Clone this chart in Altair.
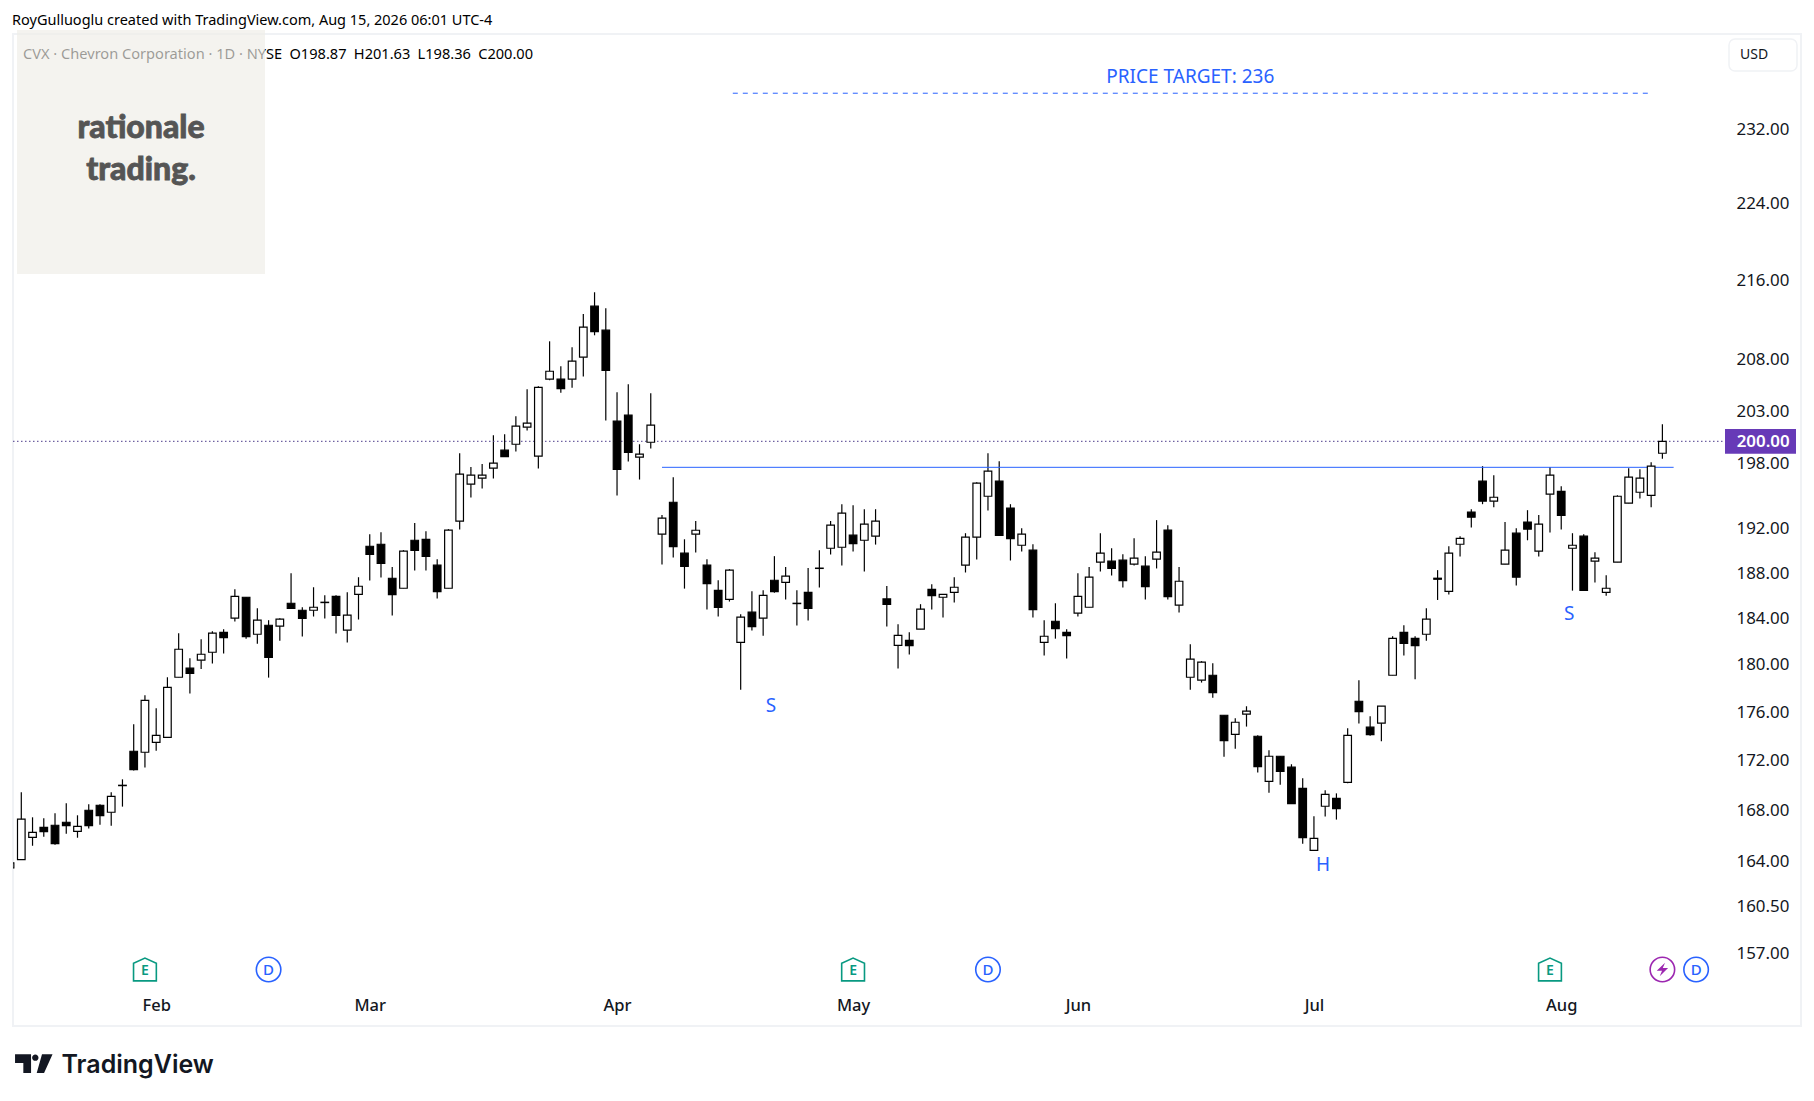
import altair as alt
import pandas as pd

open_ = [163.4,164.05,165.79,166.58,166.74,166.98,166.26,167.93,168.33,167.77,169.93,172.69,172.61,173.42,173.83,178.85,179.62,180.30,180.98,182.70,183.93,
185.76,182.53,183.31,183.23,185.23,184.62,184.62,185.32,185.84,182.88,186.02,190.30,190.48,187.44,186.55,190.84,190.93,188.60,186.55,192.58,
195.98,196.54,197.47,199.16,199.72,201.34,198.60,205.97,205.97,205.97,208.13,213.22,210.81,201.92,202.49,198.50,199.91,191.39,194.31,189.68,
191.39,188.60,186.37,185.58,181.83,184.45,183.93,187.26,187.08,185.23,186.19,188.34,190.12,190.21,191.30,190.84,191.21,185.61,181.58,182.01,
182.97,186.46,185.76,186.19,188.60,191.12,194.86,196.26,193.77,190.39,189.95,181.83,183.66,182.70,184.36,184.88,188.87,188.96,189.05,188.69,
188.51,189.14,191.76,185.06,178.85,178.60,179.02,175.66,174.08,175.75,173.92,170.25,172.28,171.39,169.68,164.77,168.25,168.88,170.17,176.83,
174.67,175.00,179.02,182.70,182.18,182.53,187.44,186.28,190.48,193.40,196.26,194.41,188.69,191.48,192.49,189.86,195.05,195.32,190.12,191.21,
188.96,186.19,188.87,194.22,195.23,194.95,198.87]
high = [163.9,169.36,167.37,167.30,167.69,168.49,167.53,168.41,168.41,169.36,170.41,174.91,177.33,176.25,178.85,182.62,180.47,182.09,182.79,182.97,186.46,
185.76,184.80,183.75,183.93,187.89,184.88,186.64,185.93,185.93,186.19,187.53,191.39,191.57,188.43,189.95,192.40,191.66,189.14,191.85,198.88,
197.57,197.85,200.57,200.67,202.39,204.99,205.28,209.70,207.25,209.11,212.42,214.63,213.02,204.69,205.48,199.72,204.60,193.13,196.63,190.93,
192.58,189.14,187.26,188.25,184.27,186.28,186.37,189.41,188.43,186.37,188.34,189.95,192.58,194.13,194.04,193.67,193.67,186.76,183.40,182.70,
185.15,186.91,186.02,187.53,191.48,196.16,198.88,198.13,194.13,191.94,190.48,183.75,185.23,182.97,187.89,188.43,191.48,190.12,189.59,191.02,
189.41,192.67,192.21,188.43,181.66,180.22,180.05,175.66,175.41,176.41,174.00,172.77,172.28,171.63,170.50,167.45,169.52,169.28,174.58,178.60,
175.58,176.42,182.36,183.32,182.36,184.80,188.16,190.30,191.21,193.67,197.66,196.82,192.49,191.94,193.58,193.13,197.57,195.79,191.48,191.39,
189.77,187.71,194.95,197.47,197.38,198.03,201.63]
low = [163.3,164.05,165.13,165.84,165.21,166.08,165.76,166.48,166.79,166.71,168.22,171.12,171.36,172.74,173.83,178.85,177.47,179.56,180.02,180.87,183.63,
182.15,181.72,178.82,181.98,184.77,182.33,184.07,183.90,182.59,181.81,183.81,187.23,187.50,184.16,186.55,188.13,188.13,185.64,186.55,191.82,
194.74,195.57,196.51,198.56,199.03,201.02,197.44,205.87,204.66,205.15,206.23,210.30,201.98,194.92,198.10,196.41,199.31,188.66,189.29,186.52,
189.74,184.68,184.07,185.38,177.80,182.85,182.41,186.16,185.55,183.29,183.72,186.61,189.56,188.57,189.83,188.04,190.45,183.20,179.59,180.78,
182.97,184.68,183.98,185.29,187.95,189.11,193.55,191.27,189.02,189.83,183.98,180.70,182.15,180.44,184.07,184.88,188.04,187.68,186.61,188.57,
185.55,188.31,185.55,184.42,177.80,178.40,177.13,172.25,172.90,174.72,170.96,169.33,169.98,168.46,165.29,164.77,167.43,167.19,170.09,174.97,
173.97,173.52,179.02,180.70,178.68,181.98,185.52,185.99,189.38,192.00,194.13,193.86,188.69,186.79,190.84,189.38,191.54,191.82,186.34,186.37,
187.05,185.90,188.87,194.22,194.65,193.86,198.36]
close = [163.8,167.22,166.18,166.24,165.29,166.71,166.66,166.71,167.51,169.04,169.90,171.20,176.91,174.00,178.00,181.24,179.17,180.81,182.62,182.24,185.84,
182.33,183.75,180.53,183.84,184.77,183.90,184.88,185.29,184.16,184.19,186.73,189.56,188.75,185.99,189.86,189.92,189.38,186.25,191.76,196.91,
196.82,196.82,197.94,198.56,201.44,201.72,205.18,206.75,205.05,207.74,211.11,210.67,206.82,197.35,198.94,198.78,201.53,192.85,190.27,188.49,
191.75,186.97,184.86,188.16,184.01,183.20,185.93,186.25,187.62,185.20,184.77,188.31,192.21,193.31,190.54,192.30,192.58,185.12,182.44,181.55,
184.71,185.90,186.02,186.64,191.12,196.07,197.19,191.27,190.99,191.39,184.68,182.36,183.02,182.41,185.84,187.53,189.68,188.31,187.23,189.23,
186.70,189.77,185.81,187.17,180.39,180.13,177.55,173.56,175.08,176.00,171.44,172.28,171.04,168.46,165.76,165.71,169.20,168.06,174.00,175.97,
174.06,176.42,182.18,181.75,181.55,183.84,187.35,189.68,191.02,192.94,194.41,194.77,189.95,187.53,191.85,192.30,196.82,193.10,190.39,186.37,
189.23,186.55,194.86,196.63,196.54,197.66,200.00]

price_ticks = [157, 160.5, 164, 168, 172, 176, 180, 184, 188, 192, 198, 203, 208, 216, 224, 232]
month_idx = [12, 31, 53, 74, 94, 115, 137]
month_names = ["Feb", "Mar", "Apr", "May", "Jun", "Jul", "Aug"]
earnings_idx = [11, 74, 136]
dividend_idx = [22, 86, 149]
split_idx = [146]
neck_idx, neck_price = [57, 147], [197.55, 197.55]
target_idx, target_price = [63.3, 145.1], [235.85, 235.85]
labels = ["S", "H", "S", "PRICE TARGET: 236"]
label_idx = [66.7, 115.8, 137.7, 104.0]
label_price = [176.5, 163.7, 184.38, 237.78]
last_price = 200.0

HEADER = "RoyGulluoglu created with TradingView.com, Aug 15, 2026 06:01 UTC-4"
LEGEND = "CVX \u00b7 Chevron Corporation \u00b7 1D \u00b7 NYSE\u2002O198.87\u2002H201.63\u2002L198.36\u2002C200.00"

FONT = "Noto Sans"
INK = "#131722"
BLUE = "#2962FF"
GREEN = "#089981"
PURPLE = "#9C27B0"

W, H = 1712, 951
df = pd.DataFrame({"i": list(range(-1, len(open_) - 1)), "o": open_, "h": high, "l": low, "c": close})
df["dir"] = ["up" if c >= o else "down" for o, c in zip(df.o, df.c)]

xs = alt.Scale(domain=[-0.738, 151.57], nice=False, zero=False, padding=0)
ys = alt.Scale(type="log", domain=[154.59, 242.56], nice=False, zero=False, padding=0)
month_expr = "{" + ",".join(f"'{i}':'{n}'" for i, n in zip(month_idx, month_names)) + "}[datum.value]"
x_axis = alt.Axis(values=month_idx, labelExpr=month_expr, domain=False, ticks=False, grid=False, title=None,
                  labelFont=FONT, labelFontSize=16.5, labelFontWeight=500, labelColor=INK, labelPadding=12,
                  labelFlush=False, labelOverlap=False)
y_axis = alt.Axis(orient="right", values=price_ticks, format=".2f", domain=False, ticks=False, grid=False, title=None,
                  labelFont=FONT, labelFontSize=16.9, labelColor=INK, labelPadding=11, labelOffset=1.2, labelOverlap=False)
X = alt.X("i:Q", scale=xs, axis=x_axis)
def Y(field):
    return alt.Y(field, scale=ys, axis=y_axis)
one = pd.DataFrame({"a": [0]})

frame = alt.Chart(one).mark_rect(fill="transparent", stroke="#F0F2F5", strokeWidth=2, clip=False).encode(
    x=alt.value(0), x2=alt.value(1788), y=alt.value(0), y2=alt.value(992))

wicks = alt.Chart(df).mark_rule(color="#000000", strokeWidth=1.2, clip=True).encode(
    x=X, y=Y("l:Q"), y2="h:Q")
bodies = alt.Chart(df).mark_bar(size=7.6, stroke="#000000", strokeWidth=1.2, clip=True).encode(
    x=X, y=Y("o:Q"), y2="c:Q",
    fill=alt.Color("dir:N", scale=alt.Scale(domain=["up", "down"], range=["#FFFFFF", "#000000"]), legend=None))

last_line = alt.Chart(pd.DataFrame({"p": [last_price]})).mark_rule(
    color="#4B3B8A", strokeWidth=1, strokeDash=[1.5, 2.5]).encode(
    y=Y("p:Q"), x=alt.value(0), x2=alt.value(1710))
neck = alt.Chart(pd.DataFrame({"i": neck_idx, "p": neck_price})).mark_line(color=BLUE, strokeWidth=1).encode(
    x=X, y=Y("p:Q"))
target = alt.Chart(pd.DataFrame({"i": target_idx, "p": target_price})).mark_line(
    color=BLUE, strokeWidth=1, strokeDash=[5, 5]).encode(x=X, y=Y("p:Q"))
notes = alt.Chart(pd.DataFrame({"t": labels, "i": label_idx, "p": label_price})).mark_text(
    font=FONT, fontSize=19, color=BLUE, align="center", baseline="middle", dy=1).encode(
    x=X, y=Y("p:Q"), text="t:N")

ICON_Y = 935.5
house = "M-1,1 L-1,-0.55 L0,-1 L1,-0.55 L1,1 Z"
bolt = "M0.35,-0.9 L-0.75,0.15 L-0.05,0.15 L-0.35,0.9 L0.75,-0.2 L0.05,-0.2 Z"
ev_e = pd.DataFrame({"i": earnings_idx, "t": ["E"] * len(earnings_idx)})
ev_d = pd.DataFrame({"i": dividend_idx, "t": ["D"] * len(dividend_idx)})
ev_s = pd.DataFrame({"i": split_idx})
e_icon = alt.Chart(ev_e).mark_point(shape=house, size=520, stroke=GREEN, strokeWidth=1.6, fill="#FFFFFF", filled=False, opacity=1, clip=False).encode(x=X, y=alt.value(ICON_Y))
e_text = alt.Chart(ev_e).mark_text(font=FONT, fontSize=14, fontWeight=600, color=GREEN, align="center", baseline="middle").encode(x=X, y=alt.value(ICON_Y + 1), text="t:N")
d_icon = alt.Chart(ev_d).mark_point(shape="circle", size=600, stroke=BLUE, strokeWidth=1.6, filled=False, opacity=1, clip=False).encode(x=X, y=alt.value(ICON_Y))
d_text = alt.Chart(ev_d).mark_text(font=FONT, fontSize=15, fontWeight=500, color=BLUE, align="center", baseline="middle").encode(x=X, y=alt.value(ICON_Y), text="t:N")
s_icon = alt.Chart(ev_s).mark_point(shape="circle", size=600, stroke=PURPLE, strokeWidth=1.6, filled=False, opacity=1, clip=False).encode(x=X, y=alt.value(ICON_Y))
s_bolt = alt.Chart(ev_s).mark_point(shape=bolt, size=230, fill=PURPLE, strokeWidth=0, filled=True, opacity=1, clip=False).encode(x=X, y=alt.value(ICON_Y))

def label(text, x, y, **kw):
    return alt.Chart(pd.DataFrame({"t": [text]})).mark_text(baseline="middle", **kw).encode(
        x=alt.value(x), y=alt.value(y), text="t:N")

tag = alt.Chart(one).mark_rect(fill="#673AB7", clip=False).encode(
    x=alt.value(1712), x2=alt.value(1783), y=alt.value(395), y2=alt.value(419.7))
tag_text = label("200.00", 1723.7, 408.3, font=FONT, fontSize=16.9, fontWeight=600, color="#FFFFFF", align="left")
usd_box = alt.Chart(one).mark_rect(fill="#FFFFFF", stroke="#F0F2F5", strokeWidth=1.5, cornerRadius=6, clip=False).encode(
    x=alt.value(1716), x2=alt.value(1784), y=alt.value(5), y2=alt.value(37))
usd_text = label("USD", 1727, 21, font=FONT, fontSize=14, color=INK, align="left")

header = label(HEADER, -1, -13, font=FONT, fontSize=14.5, color="#000000", align="left")
legend = label(LEGEND, 10, 21, font=FONT, fontSize=14.6, color="#000000", align="left")
logo_path = ("M-0.99,-0.5 H-0.14 V0.49 H-0.55 V-0.04 H-0.99 Z "
             "M-0.085,-0.32 a0.17,0.17 0 1 0 0.34,0 a0.17,0.17 0 1 0 -0.34,0 Z "
             "M0.44,-0.5 H1 L0.55,0.49 H0.16 Z")
logo = alt.Chart(one).mark_point(shape=logo_path, size=1421, fill=INK, filled=True, strokeWidth=0, opacity=1, clip=False).encode(
    x=alt.value(20.7), y=alt.value(1029.7))
logo_text = label("TradingView", 48.5, 1030.5, font="Inter", fontSize=25, fontWeight=600, color=INK, align="left")

wm_box = alt.Chart(one).mark_rect(fill="#EEECE6", opacity=0.65, clip=False).encode(
    x=alt.value(4), x2=alt.value(252), y=alt.value(-4), y2=alt.value(240))
wm1 = label("rationale", 128, 93.5, font="Lato", fontSize=32, fontWeight=900, color="#555555", stroke="#555555", strokeWidth=0.8, align="center")
wm2 = label("trading.", 128, 136, font="Lato", fontSize=32, fontWeight=900, color="#555555", stroke="#555555", strokeWidth=0.8, align="center")

chart = alt.layer(
    wicks, frame, last_line, target, neck, bodies, notes,
    e_icon, e_text, d_icon, d_text, s_icon, s_bolt,
    tag, tag_text, usd_box, usd_text, header, legend, logo, logo_text,
    wm_box, wm1, wm2,
).resolve_scale(x="shared", y="shared").properties(
    width=W, height=H,
    padding={"left": 5, "top": 26, "right": 80, "bottom": 100},
    autosize=alt.AutoSizeParams(type="none"),
    background="#FFFFFF",
).configure_view(stroke=None)

chart.save("out.html", embed_options={"renderer": "svg", "actions": False})
